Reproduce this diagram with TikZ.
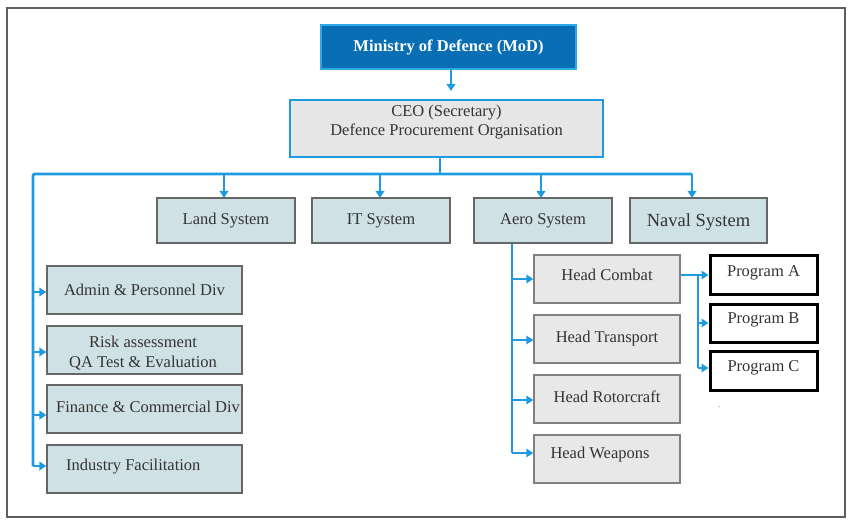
\documentclass[tikz,border=0pt]{standalone}
\usepackage{fontspec}
\setmainfont{Liberation Serif}
\usetikzlibrary{arrows.meta}
\definecolor{lineblue}{HTML}{1E9BE0}
\definecolor{modblue}{HTML}{0A6EB4}
\definecolor{modborder}{HTML}{2FA8E6}
\definecolor{ceofill}{HTML}{E6E6E6}
\definecolor{sysfill}{HTML}{CFE1E4}
\definecolor{sysborder}{HTML}{666666}
\definecolor{headfill}{HTML}{E8E8E8}
\definecolor{headborder}{HTML}{808080}
\definecolor{framegray}{HTML}{5E5E5E}
\definecolor{txt}{HTML}{333333}
\begin{document}
\begin{tikzpicture}[x=1pt,y=-1pt,
  every node/.style={font=\fontsize{16.5}{19}\selectfont, text=txt},
  box/.style={rectangle, inner sep=0pt, align=center},
  modbox/.style={box, fill=modblue, draw=modborder, line width=1.8pt, text=white, font=\bfseries\fontsize{16.5}{19}\selectfont},
  ceobox/.style={box, fill=ceofill, draw=lineblue, line width=2pt},
  sysbox/.style={box, fill=sysfill, draw=sysborder, line width=1.3pt},
  headbox/.style={box, fill=headfill, draw=headborder, line width=1.4pt, text depth=8pt},
  progbox/.style={box, fill=white, draw=black, line width=3pt, text depth=9pt},
  link/.style={draw=lineblue, line width=2.9pt},
  arr/.style={link, -{Triangle[length=7pt,width=8.5pt]}}
]
\useasboundingbox (0,0) rectangle (853,526);
\draw[framegray, line width=1.6pt] (7,8) rectangle (845,517);

% top
\node[modbox, minimum width=255, minimum height=44] (mod) at (448.5,47) {Ministry of Defence (MoD)};
\node[ceobox, minimum width=313, minimum height=57] (ceo) at (446.5,128.5) {};
\node[align=center, inner sep=0pt] (ceotext) at (446.5,122.5) {CEO (Secretary)\\[0pt]Defence Procurement Organisation};

% systems
\node[sysbox, minimum width=138, minimum height=45] (land) at (226,220.5) {Land System};
\node[sysbox, minimum width=138, minimum height=45] (it) at (381,220.5) {IT System};
\node[sysbox, minimum width=138, minimum height=45] (aero) at (543,220.5) {Aero System};
\node[sysbox, minimum width=137, minimum height=45, text depth=0pt, font=\fontsize{18.5}{21}\selectfont] (naval) at (698.5,220.5) {Naval System};

% left divisions
\node[sysbox, minimum width=195, minimum height=48] (admin) at (144.5,290) {Admin \& Personnel Div};
\node[sysbox, minimum width=195, minimum height=48] (risk) at (144.5,350) {};
\node[align=center, inner sep=0pt] (risktext) at (143,353) {Risk assessment\\[1pt]QA Test \& Evaluation};
\node[sysbox, minimum width=195, minimum height=48] (fin) at (144.5,409) {};
\node[anchor=west, inner sep=0pt] (fintext) at (56,407) {Finance \& Commercial Div};
\node[sysbox, minimum width=195, minimum height=48] (ind) at (144.5,469) {};
\node[anchor=west, inner sep=0pt] (indtext) at (66,467) {Industry Facilitation};

% heads
\node[headbox, minimum width=146, minimum height=48] (comb) at (607,279) {Head Combat};
\node[headbox, minimum width=146, minimum height=48, text depth=5pt] (trans) at (607,339) {Head Transport};
\node[headbox, minimum width=146, minimum height=48, text depth=5pt] (rotor) at (607,399) {Head Rotorcraft};
\node[headbox, minimum width=146, minimum height=48] (weap) at (607,459) {};
\node[inner sep=0pt] (weaptext) at (600,455) {Head Weapons};

% programs
\node[progbox, minimum width=107, minimum height=39] (pA) at (763.5,275.5) {Program A};
\node[progbox, minimum width=107, minimum height=38] (pB) at (763.5,323) {Program B};
\node[progbox, minimum width=107, minimum height=39] (pC) at (763.5,370.5) {Program C};
\node[font=\fontsize{8}{9}\selectfont, inner sep=0pt] (dot) at (719,407) {.};

% connectors
\draw[arr, shorten >=8pt] (mod.south -| 451,0) -- (ceo.north -| 451,0);
\coordinate (drop) at (440,174);
\coordinate (busL) at (33,174);
\coordinate (busR) at (692,174);
\draw[link] (ceo.south -| drop) -- (drop);
\draw[link, rounded corners=2pt] (busR) -- (busL) -- (33,466);
\draw[arr] (224,174) -- (224,198);
\draw[arr] (380,174) -- (380,198);
\draw[arr] (541,174) -- (541,198);
\draw[arr] (busR) -- (692,198);

\draw[arr] (busL |- 0,292) -- (admin.west |- 0,292);
\draw[arr] (busL |- 0,352) -- (risk.west |- 0,352);
\draw[arr] (busL |- 0,415) -- (fin.west |- 0,415);
\draw[arr] (busL |- 0,466) -- (ind.west |- 0,466);

\coordinate (abus) at (512,243);
\draw[link] (aero.south -| abus) -- (512,453);
\draw[arr] (512,279) -- (comb.west |- 0,279);
\draw[arr] (512,340) -- (trans.west |- 0,340);
\draw[arr] (512,400) -- (rotor.west |- 0,400);
\draw[arr] (512,453) -- (weap.west |- 0,453);

\coordinate (pj) at (698,275);
\draw[arr] (comb.east |- pj) -- (pA.west |- pj);
\draw[link] (pj) -- (698,368);
\draw[arr] (698,323) -- (pB.west |- 0,323);
\draw[arr] (698,368) -- (pC.west |- 0,368);
\end{tikzpicture}
\end{document}
